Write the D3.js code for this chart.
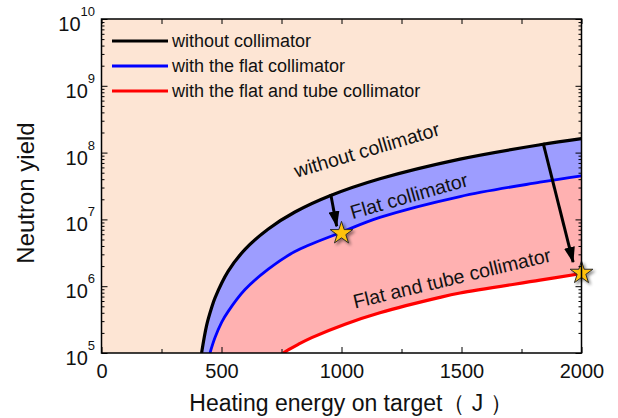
<!DOCTYPE html>
<html>
<head>
<meta charset="utf-8">
<script src="https://cdn.jsdelivr.net/npm/d3@7"></script>
<style>
  body { margin: 0; background: #fff; }
  svg text { font-family: "Liberation Sans", Arial, sans-serif; fill: #111; }
</style>
</head>
<body>
<svg id="chart" width="618" height="418"></svg>
<script>
// data
var energyBlack = [417, 438, 459, 473, 528, 598, 695, 806, 952, 1160, 1494, 1827, 2000];
var yieldBlack  = [1.0e5, 2.6e5, 4.8e5, 6.7e5, 1.68e6, 3.56e6, 7.2e6, 1.29e7, 2.26e7, 4.06e7, 8.0e7, 1.31e8, 1.62e8];

var energyBlue = [452, 473, 501, 528, 598, 695, 806, 994, 1160, 1494, 1827, 2000];
var yieldBlue  = [1.0e5, 1.7e5, 2.9e5, 4.2e5, 8.9e5, 1.8e6, 3.3e6, 6.3e6, 1.07e7, 2.2e7, 3.6e7, 4.5e7];

var energyRed = [757, 780, 820, 876, 1015, 1160, 1410, 1494, 1827, 2000];
var yieldRed  = [1.0e5, 1.12e5, 1.35e5, 1.7e5, 2.7e5, 4.0e5, 6.8e5, 7.9e5, 1.23e6, 1.55e6];

var legendLabels = ["without collimator", "with the flat collimator", "with the flat and tube collimator"];
var lineColors = ["#000000", "#0000ff", "#ff0000"];
var bandColors = ["#fde5d4", "#9d9dff", "#ffb1b1", "#ffffff"];

var xTicks = [0, 500, 1000, 1500, 2000];
var xMinorTicks = [250, 750, 1250, 1750];
var yExponents = [5, 6, 7, 8, 9, 10];

// stars and arrows (energy, yield)
var starE = [1000, 2000];
var starY = [6.2e6, 1.58e6];
var arrowFrom = [[955, 2.4e7], [1840, 1.4e8]];
var arrowTo   = [[980, 7.9e6], [1965, 2.3e6]];

var curveLabels = ["without collimator", "Flat collimator", "Flat and tube collimator"];
var curveLabelE = [1105, 1281, 1460];
var curveLabelY = [1.1e8, 2.25e7, 1.32e6];
var curveLabelAngle = [-16.5, -16, -13.5];

var svg = d3.select("#chart");
var margin = {left: 101.5, right: 581.5, top: 19, bottom: 353};

var x = d3.scaleLinear().domain([0, 2000]).range([margin.left, margin.right]);
var y = d3.scaleLog().domain([1e5, 1e10]).range([margin.bottom, margin.top]);

var defs = svg.append("defs");
defs.append("clipPath").attr("id", "plot-clip")
  .append("rect")
  .attr("x", margin.left).attr("y", margin.top)
  .attr("width", margin.right - margin.left).attr("height", margin.bottom - margin.top);

var shadow = defs.append("filter").attr("id", "star-shadow")
  .attr("x", "-50%").attr("y", "-50%").attr("width", "200%").attr("height", "200%");
shadow.append("feDropShadow").attr("dx", 2).attr("dy", 2).attr("stdDeviation", 1.6)
  .attr("flood-color", "#000").attr("flood-opacity", 0.45);

defs.append("marker")
  .attr("id", "arrowhead")
  .attr("viewBox", "0 0 16 11")
  .attr("refX", 15).attr("refY", 5.5)
  .attr("markerUnits", "userSpaceOnUse")
  .attr("markerWidth", 16).attr("markerHeight", 11)
  .attr("orient", "auto")
  .append("path").attr("d", "M0,0 L16,5.5 L0,11 z").attr("fill", "#000");

function zip(es, vs) {
  return es.map(function(e, i) { return {e: e, v: vs[i]}; });
}
var series = [zip(energyBlack, yieldBlack), zip(energyBlue, yieldBlue), zip(energyRed, yieldRed)];

var curve = d3.curveCatmullRom.alpha(0.5);
var line = d3.line().x(function(d) { return x(d.e); }).y(function(d) { return y(d.v); })
  .curve(curve);
var area = d3.area().x(function(d) { return x(d.e); })
  .y0(y(1e5)).y1(function(d) { return y(d.v); })
  .curve(curve);

var plot = svg.append("g").attr("clip-path", "url(#plot-clip)");

// background band, then the area under each curve on top
plot.append("rect")
  .attr("x", margin.left).attr("y", margin.top)
  .attr("width", margin.right - margin.left).attr("height", margin.bottom - margin.top)
  .attr("fill", bandColors[0]);

series.forEach(function(s, i) {
  plot.append("path").attr("d", area(s)).attr("fill", bandColors[i + 1]);
});

var widths = [3.2, 2.8, 3.2];
series.forEach(function(s, i) {
  plot.append("path").attr("d", line(s))
    .attr("fill", "none").attr("stroke", lineColors[i]).attr("stroke-width", widths[i]);
});

// curve labels
curveLabels.forEach(function(t, i) {
  var cx = x(curveLabelE[i]), cy = y(curveLabelY[i]);
  plot.append("text")
    .attr("transform", "translate(" + cx + "," + cy + ") rotate(" + curveLabelAngle[i] + ")")
    .attr("text-anchor", "middle").attr("dy", "0.35em")
    .style("font-size", "19.5px")
    .text(t);
});

// arrows
arrowFrom.forEach(function(p, i) {
  svg.append("line")
    .attr("x1", x(p[0])).attr("y1", y(p[1]))
    .attr("x2", x(arrowTo[i][0])).attr("y2", y(arrowTo[i][1]))
    .attr("stroke", "#000").attr("stroke-width", 3)
    .attr("marker-end", "url(#arrowhead)");
});

// stars
var star = d3.symbol().type(d3.symbolStar).size(160);
starE.forEach(function(e, i) {
  svg.append("path")
    .attr("d", star())
    .attr("transform", "translate(" + x(e) + "," + y(starY[i]) + ")")
    .attr("fill", "#ffc20e").attr("stroke", "#2a2a2a").attr("stroke-width", 1)
    .attr("filter", "url(#star-shadow)");
});

// frame
svg.append("rect")
  .attr("x", margin.left).attr("y", margin.top)
  .attr("width", margin.right - margin.left).attr("height", margin.bottom - margin.top)
  .attr("fill", "none").attr("stroke", "#000").attr("stroke-width", 1.5);

// x axes (ticks pointing inward)
var xAxis = svg.append("g").attr("transform", "translate(0," + margin.bottom + ")")
  .call(d3.axisBottom(x).tickValues(xTicks).tickSize(-6).tickPadding(11).tickFormat(d3.format("d")));
xAxis.select(".domain").remove();
xAxis.selectAll("text").style("font-size", "20px");

svg.append("g").attr("transform", "translate(0," + margin.bottom + ")")
  .call(d3.axisBottom(x).tickValues(xMinorTicks).tickSize(-4).tickFormat(""))
  .select(".domain").remove();

var xTop = svg.append("g").attr("transform", "translate(0," + margin.top + ")")
  .call(d3.axisTop(x).tickValues(xTicks.concat(xMinorTicks)).tickSize(-5).tickFormat(""));
xTop.select(".domain").remove();

// y axes
var decades = yExponents.map(function(k) { return Math.pow(10, k); });
var minors = [];
yExponents.slice(0, -1).forEach(function(k) {
  for (var m = 2; m <= 9; m++) minors.push(m * Math.pow(10, k));
});

[["left", margin.left, d3.axisLeft], ["right", margin.right, d3.axisRight]].forEach(function(a) {
  var g1 = svg.append("g").attr("transform", "translate(" + a[1] + ",0)")
    .call(a[2](y).tickValues(decades).tickSize(-6).tickFormat(""));
  g1.select(".domain").remove();
  var g2 = svg.append("g").attr("transform", "translate(" + a[1] + ",0)")
    .call(a[2](y).tickValues(minors).tickSize(-3).tickFormat(""));
  g2.select(".domain").remove();
});

// y tick labels with superscript exponents
yExponents.forEach(function(k) {
  var t = svg.append("text")
    .attr("x", 95).attr("y", y(Math.pow(10, k)) + 12)
    .attr("text-anchor", "end")
    .style("font-size", "20px");
  t.append("tspan").text("10");
  t.append("tspan").attr("dy", -15).style("font-size", "13px").text(k);
});

// legend
legendLabels.forEach(function(t, i) {
  var ly = 41 + i * 25;
  svg.append("line")
    .attr("x1", 112).attr("x2", 168).attr("y1", ly).attr("y2", ly)
    .attr("stroke", lineColors[i]).attr("stroke-width", 3);
  svg.append("text").attr("x", 172).attr("y", ly + 6)
    .style("font-size", "18px").text(t);
});

// axis titles
svg.append("text")
  .attr("x", 351).attr("y", 411)
  .attr("text-anchor", "middle")
  .style("font-size", "23px")
  .text("Heating energy on target\uFF08 J \uFF09");

svg.append("text")
  .attr("transform", "translate(34,193) rotate(-90)")
  .attr("text-anchor", "middle")
  .style("font-size", "24px")
  .text("Neutron yield");
</script>
</body>
</html>
